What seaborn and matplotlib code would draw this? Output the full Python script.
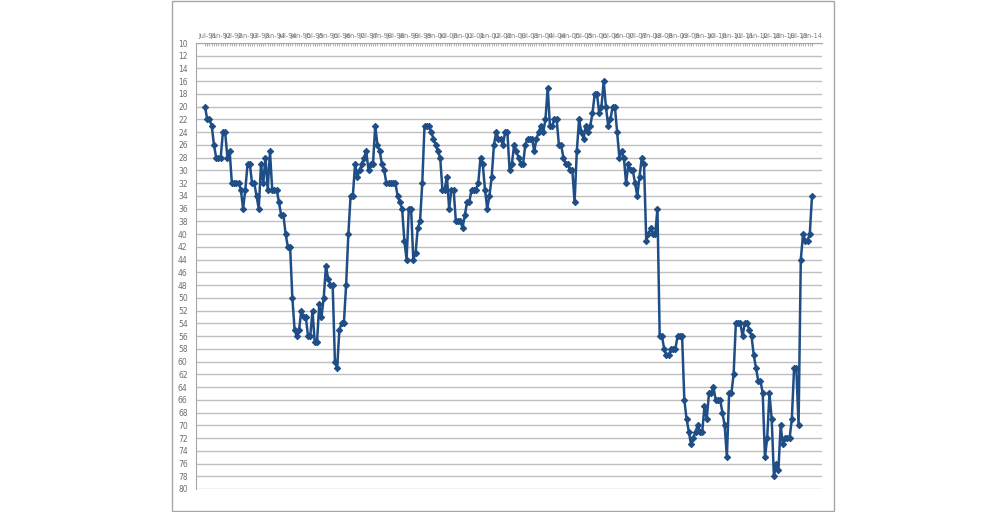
import numpy as np
import pandas as pd
import matplotlib
matplotlib.use("Agg")
import matplotlib.pyplot as plt
import seaborn as sns
from matplotlib.patches import Rectangle

# -----------------------------
# DATA
# -----------------------------
rank_part1 = [20, 22, 22, 23, 26, 28, 28, 28, 24, 24, 28, 27, 32, 32, 32, 32, 33, 36, 33, 29,
              29, 32, 32, 34, 36, 29, 32, 28, 33, 27, 33, 33, 33, 35, 37, 37, 40, 42, 42]
rank_part2 = [50, 55, 56, 55, 52, 53, 53, 56, 56, 52, 57, 57, 51, 53, 50, 45, 47, 48, 48, 60,
              61, 55, 54, 54, 48, 40, 34, 34, 29, 31, 30, 29, 28, 27, 30, 29, 29, 23, 26, 27,
              29, 30]
rank_part3 = [32, 32, 32, 32, 32, 34, 35, 36, 41, 44, 36, 36, 44, 43, 39, 38, 32, 23, 23, 23,
              24, 25, 26, 27, 28, 33, 33, 31, 36, 33, 33, 38, 38, 38, 39, 37, 35, 35, 33,
              33, 33, 32, 28, 29, 33, 36, 34, 31, 26, 24, 25, 25, 26, 24, 24, 30, 29, 26,
              27, 28, 29, 29, 26, 25, 25, 25, 27, 25, 24, 23, 24, 22, 17, 23, 23, 22, 22,
              26, 26, 28, 29, 29, 30, 30, 35, 27, 22, 24, 25, 23, 24, 23, 21, 18, 18, 21,
              20, 16, 20, 23, 22, 20, 20, 24, 28]
rank_part4 = [27, 28, 32, 29, 30, 30, 32, 34, 31, 28, 29, 41, 40, 39, 40, 40, 36, 56, 56, 58,
              59, 59, 58, 58, 58, 56, 56, 56]
rank_part5 = [66, 69, 71, 73, 72, 71, 70, 71, 71, 67, 69, 65, 65, 64, 66, 66, 66, 68, 70, 75,
              65, 65, 62, 54, 54, 54, 56, 54, 54, 55, 56, 59, 61, 63, 63, 65, 75, 72, 65, 69,
              78, 76, 77, 70, 73, 72, 72, 72, 69, 61, 61, 70, 44, 40, 41, 41, 40, 34]

ranks = rank_part1 + rank_part2 + rank_part3 + rank_part4 + rank_part5
n = len(ranks)

# monthly categories ending Jan-14
months = pd.date_range(end="2014-01-01", periods=n, freq="MS")
month_labels = [m.strftime("%b-%y") for m in months]
label_step = 6
label_pos = np.arange(n - 1, -1, -label_step)[::-1]

y_ticks = list(range(10, 81, 2))

df = pd.DataFrame({"pos": np.arange(n), "rank": ranks})

# -----------------------------
# PLOT
# -----------------------------
sns.set_style("white")
plt.rcParams["font.family"] = ["DejaVu Sans"]

fig = plt.figure(figsize=(10.06, 5.12), dpi=100)
fig.patches.append(Rectangle((172 / 1006, 1 / 512), 662 / 1006, 510 / 512,
                             transform=fig.transFigure, fill=False,
                             edgecolor="#A6A6A6", linewidth=1))

ax = fig.add_axes([196 / 1006, 1 - 489 / 512, 626 / 1006, 446 / 512])

line_color = "#1F4E86"
sns.lineplot(data=df, x="pos", y="rank", ax=ax, color=line_color, linewidth=1.8,
             marker="D", markersize=3.2, markeredgecolor=line_color, markerfacecolor=line_color)

span = (n - 1) / 607
ax.set_xlim(-9 * span, n - 1 + 10 * span)
ax.set_ylim(80, 10)
ax.set_yticks(y_ticks)
ax.set_yticklabels([str(v) for v in y_ticks], fontsize=5.5, color="#6E6E6E")
ax.yaxis.grid(True, color="#BFBFBF", linewidth=1)
ax.xaxis.grid(False)

ax.xaxis.tick_top()
ax.set_xticks(label_pos)
ax.set_xticklabels([month_labels[i] for i in label_pos], fontsize=4.8, color="#7A7A7A")
ax.set_xticks(np.arange(n), minor=True)
ax.tick_params(axis="x", which="both", direction="in", length=2.5, color="#A6A6A6", pad=3)
ax.tick_params(axis="y", which="major", direction="out", length=3, color="#A6A6A6", pad=3)

for side in ["right", "bottom"]:
    ax.spines[side].set_visible(False)
for side in ["left", "top"]:
    ax.spines[side].set_color("#A6A6A6")
    ax.spines[side].set_linewidth(0.8)

ax.set_xlabel("")
ax.set_ylabel("")

fig.savefig("out.png", dpi=100)
